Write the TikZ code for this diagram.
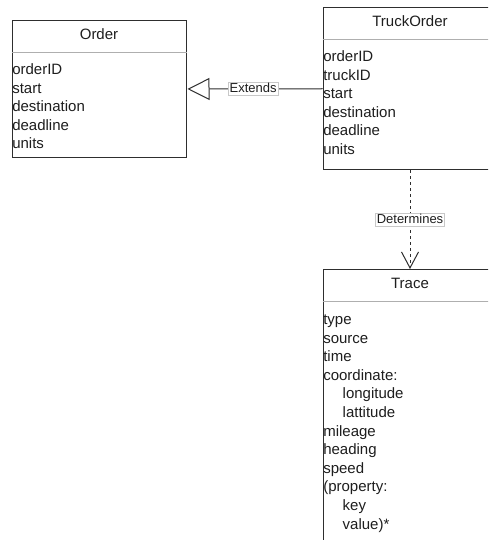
\documentclass[tikz,border=0pt]{standalone}
\usepackage{fontspec}
\setmainfont{Liberation Sans}
\usetikzlibrary{arrows.meta}
\definecolor{ink}{HTML}{1E1E1E}
\definecolor{edge}{HTML}{2E2E2E}
\definecolor{rule}{HTML}{AFAFAF}
\definecolor{labeledge}{HTML}{C8C8C8}
\begin{document}
\begin{tikzpicture}[x=1pt,y=-1pt,
  classbox/.style={draw=edge, line width=1pt, fill=white, minimum width=174pt, inner sep=0pt, anchor=north west},
  divider/.style={draw=rule, line width=1pt},
  title/.style={font=\fontsize{15}{18}\selectfont, text=ink, anchor=base, inner sep=0pt},
  attr/.style={font=\fontsize{15}{18}\selectfont, text=ink, anchor=base west, inner sep=0pt},
  linklabel/.style={font=\fontsize{13}{15}\selectfont, text=ink, fill=white, draw=labeledge, solid, line width=0.6pt,
    inner xsep=1.3pt, inner ysep=0.5pt, text height=9.8pt, text depth=2.6pt},
  link/.style={draw=edge, line width=1pt}]
\useasboundingbox (0,0) rectangle (488,540);
\clip (0,0) rectangle (488,540);
\fill[white] (0,0) rectangle (488,540);

% --- class boxes ---
\node[classbox, minimum height=137pt]   (order) at (11.5,20)   {};
\node[classbox, minimum height=161.5pt] (truck) at (322.5,7.5) {};
\node[classbox, minimum height=300pt]   (trace) at (322.5,269) {};

% compartment dividers
\foreach \c in {order,truck,trace}
  \draw[divider] ([yshift=-32.5pt]\c.north west) -- ([yshift=-32.5pt]\c.north east);

% class names
\node[title] (order-title) at ([yshift=-19.5pt]order.north) {Order};
\node[title] (truck-title) at ([yshift=-19pt]truck.north)   {TruckOrder};
\node[title] (trace-title) at ([yshift=-19.5pt]trace.north) {Trace};

% attributes
\foreach \t [count=\i from 0] in {orderID,start,destination,deadline,units}
  \node[attr] (order-attr-\i) at ([xshift=0.6pt, yshift={-55pt-\i*18.5pt}]order.north west) {\t};
\foreach \t [count=\i from 0] in {orderID,truckID,start,destination,deadline,units}
  \node[attr] (truck-attr-\i) at ([xshift=0.6pt, yshift={-54.5pt-\i*18.5pt}]truck.north west) {\t};

\node[attr] (trace-attr-0)  at ([xshift=0.6pt,  yshift=-55.5pt]trace.north west)  {type};
\node[attr] (trace-attr-1)  at ([xshift=0.6pt,  yshift=-74.1pt]trace.north west)  {source};
\node[attr] (trace-attr-2)  at ([xshift=0.6pt,  yshift=-92.7pt]trace.north west)  {time};
\node[attr] (trace-attr-3)  at ([xshift=0.6pt,  yshift=-111.3pt]trace.north west) {coordinate:};
\node[attr] (trace-attr-4)  at ([xshift=20pt,   yshift=-129.9pt]trace.north west) {longitude};
\node[attr] (trace-attr-5)  at ([xshift=20pt,   yshift=-148.5pt]trace.north west) {lattitude};
\node[attr] (trace-attr-6)  at ([xshift=0.6pt,  yshift=-167.1pt]trace.north west) {mileage};
\node[attr] (trace-attr-7)  at ([xshift=0.6pt,  yshift=-185.7pt]trace.north west) {heading};
\node[attr] (trace-attr-8)  at ([xshift=0.6pt,  yshift=-204.3pt]trace.north west) {speed};
\node[attr] (trace-attr-9)  at ([xshift=0.6pt,  yshift=-222.9pt]trace.north west) {(property:};
\node[attr] (trace-attr-10) at ([xshift=20pt,   yshift=-241.5pt]trace.north west) {key};
\node[attr] (trace-attr-11) at ([xshift=20pt,   yshift=-260.1pt]trace.north west) {value)*};

% --- relations ---
\draw[link, shorten >=1pt, -{Triangle[open, length=22pt, width=22pt, fill=white]}]
  (truck.west) -- node[linklabel, pos=0.51] (extends-label) {Extends} (order.east);
\draw[link, dash pattern=on 3pt off 3pt, -{Straight Barb[length=16pt, width=17pt]}]
  (truck.south) -- node[linklabel] (determines-label) {Determines} (trace.north);
\end{tikzpicture}
\end{document}
